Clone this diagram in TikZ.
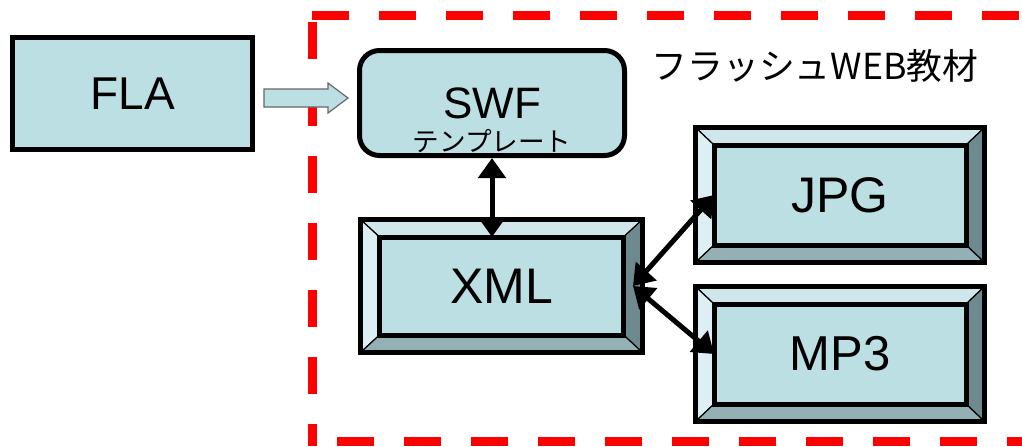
\documentclass[tikz,border=0pt]{standalone}
\usepackage{fontspec}
\setmainfont{Liberation Sans}
\newfontfamily\jpfont{Noto Sans CJK JP}
\usepackage{tikz}
\usetikzlibrary{calc,arrows.meta}

\definecolor{boxfill}{RGB}{188,223,228}
\definecolor{bevtop}{RGB}{207,231,235}
\definecolor{bevleft}{RGB}{221,239,242}
\definecolor{bevright}{RGB}{111,138,142}
\definecolor{bevbottom}{RGB}{149,176,180}
\definecolor{framered}{RGB}{255,0,0}

\tikzset{
	plainbox/.style={draw, line width=2.5pt, fill=boxfill, minimum width=120pt, minimum height=56pt, font=\fontsize{23}{26}\selectfont},
	roundbox/.style={draw, line width=2.5pt, fill=boxfill, rounded corners=10pt, minimum width=132.5pt, minimum height=52.5pt},
	bevelframe/.style={inner sep=0pt, outer sep=0pt},
	bevelface/.style={fill=boxfill, inner sep=0pt, outer sep=0pt},
	boxline/.style={line width=2.5pt},
	blockarrow/.style={draw=gray!80!black, line width=0.6pt, fill=boxfill},
	link/.style={line width=2.5pt, {Triangle[length=10pt,width=13.5pt]}-{Triangle[length=10pt,width=13.5pt]}},
	webframe/.style={framered, line width=4.5pt, dash pattern=on 18.5pt off 15pt},
}

% bevel edges between face #1 and frame #2
\newcommand{\bevels}[2]{
	\filldraw[fill=bevtop, line width=0.6pt] (#2.north west) -- (#2.north east) -- (#1.north east) -- (#1.north west) -- cycle;
	\filldraw[fill=bevleft, line width=0.6pt] (#2.north west) -- (#1.north west) -- (#1.south west) -- (#2.south west) -- cycle;
	\filldraw[fill=bevright, line width=0.6pt] (#2.north east) -- (#2.south east) -- (#1.south east) -- (#1.north east) -- cycle;
	\filldraw[fill=bevbottom, line width=0.6pt] (#2.south west) -- (#2.south east) -- (#1.south east) -- (#1.south west) -- cycle;
	\draw[boxline] (#2.north west) rectangle (#2.south east);
	\draw[boxline] (#1.north west) rectangle (#1.south east);
}

\begin{document}
\begin{tikzpicture}[x=0.5pt, y=-0.5pt]
			\useasboundingbox (0,0) rectangle (1022,446);
			% red frame
			\draw[webframe] (312,15) -- (1040,15);
			\draw[webframe] (312,22) -- (312,446);
			\draw[webframe] (337,441) -- (1040,441);
			\node[font=\jpfont\fontsize{17.9}{18}\selectfont] (title) at (815,66) {フラッシュWEB教材};

			\node[plainbox] (fla) at (132.5,93.5) {FLA};
			% block arrow
			\coordinate (push) at (264,98);
			\draw[blockarrow] (push) ++(0,-9) -- ++(64,0) -- ++(0,-6) -- ++(20,15) -- ++(-20,15) -- ++(0,-6) -- ++(-64,0) -- cycle;

			\node[roundbox] (swf) at (492,103) {};
			\node[font=\fontsize{22}{22}\selectfont] (swfname) at ($(swf.center)+(0,0)$) {SWF};
			\node[font=\jpfont\fontsize{13.3}{13}\selectfont] (swfsub) at ($(swf.center)+(0,38)$) {テンプレート};

			\node[bevelframe, minimum width=141pt, minimum height=66.5pt] (xmlframe) at (501.5,286) {};
			\node[bevelface, minimum width=122pt, minimum height=49pt, font=\fontsize{25}{25}\selectfont] (xml) at (xmlframe.center) {XML};
			\bevels{xml}{xmlframe}

			\node[bevelframe, minimum width=144.5pt, minimum height=67.5pt] (jpgframe) at (840,195) {};
			\node[bevelface, minimum width=126pt, minimum height=50pt, font=\fontsize{25}{25}\selectfont] (jpg) at (jpgframe.center) {JPG};
			\bevels{jpg}{jpgframe}

			\node[bevelframe, minimum width=144.5pt, minimum height=67.5pt] (mp3frame) at (840,354) {};
			\node[bevelface, minimum width=126pt, minimum height=50pt, font=\fontsize{24.5}{25}\selectfont] (mp3) at (mp3frame.center) {MP3};
			\bevels{mp3}{mp3frame}

			\coordinate (xmlport) at ($(xml.east)!0.5!(xmlframe.east)$);
			\draw[link] (swf.south) -- (swf.south |- xml.north);
			\draw[link] (xmlport) -- (jpg.west);
			\draw[link] (xmlport) -- (mp3.west);
		\end{tikzpicture}
\end{document}
